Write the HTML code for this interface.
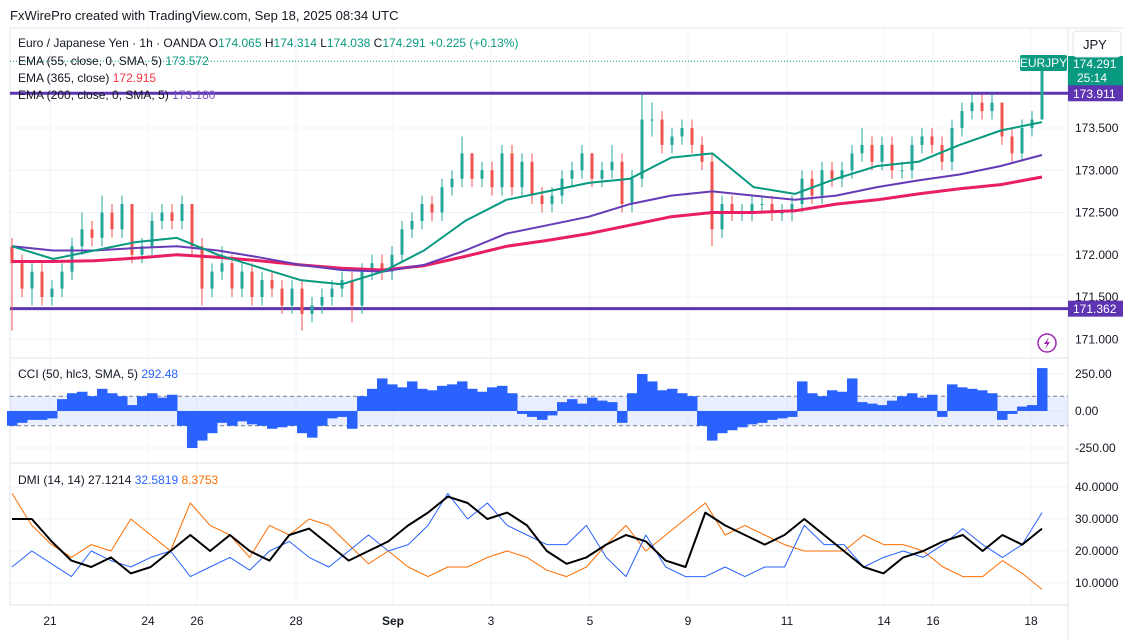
<!DOCTYPE html>
<html><head><meta charset="utf-8">
<style>
html,body{margin:0;padding:0;background:#fff;}
svg{display:block;font-family:"Liberation Sans",sans-serif;}
</style></head>
<body>
<svg id="chart" width="1123" height="640" viewBox="0 0 1123 640">
<rect x="0" y="0" width="1123" height="640" fill="#fff"/>
<text x="10" y="20" font-size="13" fill="#131722">FxWirePro created with TradingView.com, Sep 18, 2025 08:34 UTC</text>
<g id="grid"></g>
<g id="panes">
<line x1="10" y1="28" x2="1123" y2="28" stroke="#e0e3eb"/>
<line x1="10" y1="358" x2="1068" y2="358" stroke="#e0e3eb"/>
<line x1="10" y1="463" x2="1068" y2="463" stroke="#e0e3eb"/>
<line x1="10" y1="605" x2="1068" y2="605" stroke="#e0e3eb"/>
<line x1="1068" y1="28" x2="1068" y2="640" stroke="#e0e3eb"/>
<line x1="10" y1="28" x2="10" y2="605" stroke="#e0e3eb"/>
</g>
<g id="price"></g>
<g id="cci"></g>
<g id="dmi"></g>
<g id="axes"></g>
<g font-size="12">
<text x="18" y="47" fill="#131722">Euro / Japanese Yen · 1h · OANDA  O<tspan fill="#089981">174.065</tspan>  H<tspan fill="#089981">174.314</tspan>  L<tspan fill="#089981">174.038</tspan>  C<tspan fill="#089981">174.291</tspan>  <tspan fill="#089981">+0.225 (+0.13%)</tspan></text>
<text x="18" y="65" fill="#131722">EMA (55, close, 0, SMA, 5) <tspan fill="#089981">173.572</tspan></text>
<text x="18" y="82" fill="#131722">EMA (365, close) <tspan fill="#f23645">172.915</tspan></text>
<text x="18" y="99" fill="#131722">EMA (200, close, 0, SMA, 5) <tspan fill="#7e57c2">173.180</tspan></text>
<text x="18" y="378" fill="#131722">CCI (50, hlc3, SMA, 5) <tspan fill="#2962ff">292.48</tspan></text>
<text x="18" y="484" fill="#131722">DMI (14, 14)  27.1214  <tspan fill="#2962ff">32.5819</tspan>  <tspan fill="#ff6d00">8.3753</tspan></text>
</g>
<g>
<rect x="1073" y="31" width="48" height="26" rx="4" fill="#fff" stroke="#e0e3eb"/>
<text x="1083" y="49" font-size="13" fill="#131722">JPY</text>
</g>
<g>
<circle cx="1047" cy="343" r="9" fill="#fff" stroke="#9c27b0" stroke-width="1.5"/>
<path d="M1049 337 L1044 344 L1047 344 L1045 349 L1050 342 L1047 342 Z" fill="#9c27b0"/>
</g>
</svg>
<script>
const closes=[171.9,171.6,171.8,171.5,171.6,171.8,172.1,172.3,172.2,172.5,
172.3,172.6,172.0,172.1,172.4,172.5,172.4,172.6,172.1,171.6,
171.8,171.9,171.6,171.8,171.5,171.7,171.6,171.4,171.6,171.3,
171.4,171.5,171.6,171.7,171.4,171.8,171.9,171.8,172.0,172.3,
172.4,172.6,172.5,172.8,172.9,173.2,172.9,173.0,172.8,173.2,
172.8,173.1,172.7,172.6,172.7,172.9,173.0,173.2,172.9,173.0,
173.1,172.6,172.9,173.6,173.6,173.3,173.4,173.5,173.3,173.1,
172.3,172.6,172.5,172.5,172.6,172.6,172.5,172.5,172.6,172.9,
172.7,173.0,172.9,173.0,173.2,173.3,173.1,173.3,173.0,173.0,
173.3,173.4,173.3,173.1,173.5,173.7,173.8,173.7,173.8,173.4,
173.2,173.5,173.6,174.29];
const firstOpen=172.1;
const highs=[172.2,172.0,171.9,171.9,171.7,171.9,172.2,172.5,172.4,172.7,
172.6,172.7,172.6,172.2,172.5,172.6,172.6,172.7,172.6,172.2,
171.9,172.1,172.0,171.9,171.9,171.8,171.8,171.7,171.7,171.7,
171.5,171.6,171.7,171.8,171.8,171.9,172.0,172.0,172.1,172.4,
172.5,172.7,172.7,172.9,173.0,173.4,173.2,173.1,173.1,173.3,
173.3,173.2,173.2,172.8,172.8,173.0,173.1,173.3,173.2,173.1,
173.3,173.2,173.0,173.9,173.8,173.7,173.5,173.6,173.6,173.4,
173.2,172.7,172.7,172.6,172.7,172.7,172.7,172.6,172.7,173.0,
173.0,173.1,173.1,173.1,173.3,173.5,173.4,173.4,173.4,173.1,
173.4,173.5,173.5,173.4,173.6,173.8,173.9,173.9,173.9,173.8,
173.5,173.6,173.7,174.31];
const lows=[171.1,171.5,171.4,171.4,171.4,171.5,171.7,172.0,172.1,172.1,
172.2,172.2,171.9,171.9,172.0,172.3,172.3,172.3,172.0,171.4,
171.5,171.7,171.5,171.5,171.4,171.4,171.5,171.3,171.3,171.1,
171.2,171.3,171.4,171.5,171.2,171.3,171.7,171.7,171.7,171.9,
172.2,172.3,172.4,172.4,172.7,172.8,172.8,172.8,172.7,172.7,
172.7,172.7,172.6,172.5,172.5,172.6,172.8,172.9,172.8,172.8,
172.9,172.5,172.5,172.8,173.4,173.2,173.2,173.3,173.2,173.0,
172.1,172.2,172.4,172.4,172.4,172.5,172.4,172.4,172.4,172.5,
172.6,172.6,172.8,172.8,172.9,173.1,173.0,173.0,172.9,172.9,
172.9,173.2,173.2,173.0,173.0,173.4,173.6,173.6,173.6,173.3,
173.1,173.1,173.4,173.6];
const ema55=[172.1,171.95,172.05,172.15,172.2,172.0,171.85,171.7,171.65,171.8,172.05,172.4,172.65,172.75,172.85,172.9,173.15,173.2,172.8,172.72,172.9,173.05,173.1,173.3,173.47,173.57];
const ema200=[172.1,172.05,172.05,172.08,172.1,172.05,171.97,171.88,171.82,171.8,171.88,172.05,172.25,172.35,172.45,172.6,172.7,172.75,172.7,172.65,172.7,172.8,172.88,172.95,173.05,173.18];
const ema365=[171.92,171.92,171.93,171.96,172.0,171.97,171.93,171.88,171.84,171.82,171.87,171.98,172.1,172.17,172.25,172.35,172.45,172.5,172.5,172.52,172.6,172.65,172.72,172.78,172.83,172.92];
const levels=[173.911,171.362];
const priceTicks=[173.5,173.0,172.5,172.0,171.5,171.0];
const cciVals=[-100,-80,-60,-60,-50,80,120,130,100,150,120,100,40,100,120,90,110,-100,-250,-200,-150,-80,-100,-70,-90,-100,-120,-110,-100,-150,-180,-100,-50,-40,-120,100,150,220,180,160,200,150,140,170,180,200,150,130,160,170,120,-20,-40,-60,-30,60,80,50,90,70,60,-80,120,250,200,140,150,120,100,-100,-200,-150,-130,-110,-90,-80,-60,-50,-40,200,120,100,140,130,220,60,50,40,70,100,120,90,110,-40,180,160,150,140,120,-60,-20,30,40,290];
const cciTicks=[250,0,-250];
const adx=[30,30,23,17,15,18,13,15,20,25,20,25,20,17,25,27,22,17,20,23,28,32,37,35,30,32,28,20,16,18,22,25,23,17,15,32,28,25,22,25,30,25,20,15,13,18,20,23,25,20,25,22,27];
const diPlus=[15,20,16,12,20,17,15,18,20,12,15,18,14,20,23,18,15,20,25,20,22,28,38,30,35,28,25,22,22,28,18,12,25,15,12,12,15,12,15,15,28,22,22,15,18,20,18,22,27,22,18,22,32];
const diMinus=[38,28,22,18,22,20,30,25,20,35,28,25,18,28,25,30,28,22,16,20,15,12,15,15,18,20,18,14,12,15,22,28,20,25,30,35,25,28,25,22,20,20,20,25,22,22,20,15,12,12,17,13,8];
const dmiTicks=[40,30,20,10];
const dateLabels=["21","24","26","28","Sep","3","5","9","11","14","16","18"];
const dateIdx=[3.8,13.6,18.5,28.4,38.1,47.9,57.8,67.6,77.5,87.2,92.1,101.9];

const NS="http://www.w3.org/2000/svg";
function mk(tag,attrs,parent){const e=document.createElementNS(NS,tag);for(const k in attrs)e.setAttribute(k,attrs[k]);parent.appendChild(e);return e;}
const X0=12,DX=10,XEND=1042;
const xi=i=>X0+i*DX;
const xs=(i,n)=>X0+i*(XEND-X0)/(n-1);
const yP=p=>128+(173.5-p)*84.5;
const yC=v=>411-v*0.148;
const yD=v=>551-(v-20)*3.2;
const grid=document.getElementById('grid'),price=document.getElementById('price'),cci=document.getElementById('cci'),dmi=document.getElementById('dmi'),axes=document.getElementById('axes');

dateIdx.forEach((d,k)=>{
 const l=mk('line',{x1:xi(d),x2:xi(d),y1:28,y2:605,stroke:'#f0f3fa'},grid);
 
 
 const t=mk('text',{x:xi(d),y:625,'font-size':12,'text-anchor':'middle',fill:'#131722','font-weight':dateLabels[k]==='Sep'?'bold':'normal'},axes);
 t.textContent=dateLabels[k];
 
 
});
priceTicks.forEach(p=>{
 const l=mk('line',{x1:10,x2:1068,y1:yP(p),y2:yP(p),stroke:'#f0f3fa'},grid);
 
 
 const t=mk('text',{x:1075,y:yP(p)+4,'font-size':12,fill:'#131722'},axes);
 t.textContent=p.toFixed(3);
 
 
});
cciTicks.forEach(v=>{
 const l=mk('line',{x1:10,x2:1068,y1:yC(v),y2:yC(v),stroke:'#f0f3fa'},grid);
 
 
 const t=mk('text',{x:1075,y:yC(v)+4,'font-size':12,fill:'#131722'},axes);
 t.textContent=v.toFixed(2);
 
 
});
dmiTicks.forEach(v=>{
 const l=mk('line',{x1:10,x2:1068,y1:yD(v),y2:yD(v),stroke:'#f0f3fa'},grid);
 
 
 const t=mk('text',{x:1075,y:yD(v)+4,'font-size':12,fill:'#131722'},axes);
 t.textContent=v.toFixed(4);
 
 
});

const dl=mk('line',{x1:10,x2:1068,y1:yP(174.29),y2:yP(174.29),stroke:'#089981','stroke-dasharray':'1 2'},price);


levels.forEach(v=>{
 const l=mk('line',{x1:10,x2:1068,y1:yP(v),y2:yP(v),stroke:'#5e35b1','stroke-width':3},price);
 
 
});
closes.forEach((c,i)=>{
 const o=i===0?firstOpen:closes[i-1];
 const col=c>=o?'#26a69a':'#ef5350';
 const x=xi(i);
 const w=mk('line',{x1:x,x2:x,y1:yP(highs[i]),y2:yP(lows[i]),stroke:col,'stroke-width':1},price);
 
 
 const top=yP(Math.max(o,c)),bot=yP(Math.min(o,c));
 const b=mk('rect',{x:x-1.5,y:top,width:3,height:Math.max(1,bot-top),fill:col},price);
 
 
});
function line(arr,yf,col,w,parent,name){
 const pts=arr.map((v,i)=>xs(i,arr.length).toFixed(1)+','+yf(v).toFixed(1)).join(' ');
 const p=mk('polyline',{points:pts,fill:'none',stroke:col,'stroke-width':w,'stroke-linejoin':'round'},parent);
 
 
}
line(ema365,yP,'#e91e63',3,price,'ema365-line');
line(ema200,yP,'#673ab7',2,price,'ema200-line');
line(ema55,yP,'#089981',2,price,'ema55-line');

function tag(y,h,bg,name){
 const r=mk('rect',{x:1068,y:y,width:55,height:h,fill:bg},axes);
 
 
}
tag(56,30,"#089981",'last-price-tag');
let t=mk('text',{x:1073,y:68,'font-size':12,fill:'#fff'},axes);t.textContent='174.291';


t=mk('text',{x:1077,y:82,'font-size':12,fill:'#fff'},axes);t.textContent='25:14';


levels.forEach(v=>{
 tag(yP(v)-8,16,'#5e35b1','level-tag');
 const tt=mk('text',{x:1073,y:yP(v)+4.5,'font-size':12,fill:'#fff'},axes);tt.textContent=v.toFixed(3);
 
 
});
const st=mk('rect',{x:1020,y:55,width:47,height:16,rx:2,fill:'#089981'},price);


t=mk('text',{x:1043.5,y:67,'font-size':12,fill:'#fff','text-anchor':'middle'},price);t.textContent='EURJPY';



const band=mk('rect',{x:10,y:yC(100),width:1058,height:yC(-100)-yC(100),fill:'#2962ff',opacity:0.1},cci);


[100,-100].forEach(v=>{
 const l=mk('line',{x1:10,x2:1068,y1:yC(v),y2:yC(v),stroke:'#787b86','stroke-dasharray':'4 3'},cci);
 
 
});
cciVals.forEach((v,i)=>{
 const y=yC(v),y0=yC(0);
 const r=mk('rect',{x:xi(i)-5,y:Math.min(y,y0),width:10.5,height:Math.abs(y-y0),fill:'#2962ff'},cci);
 
 
});
line(diMinus,yD,'#ff6d00',1,dmi,'di-minus-line');
line(diPlus,yD,'#2962ff',1,dmi,'di-plus-line');
line(adx,yD,'#000000',2,dmi,'adx-line');
</script>
</body></html>
